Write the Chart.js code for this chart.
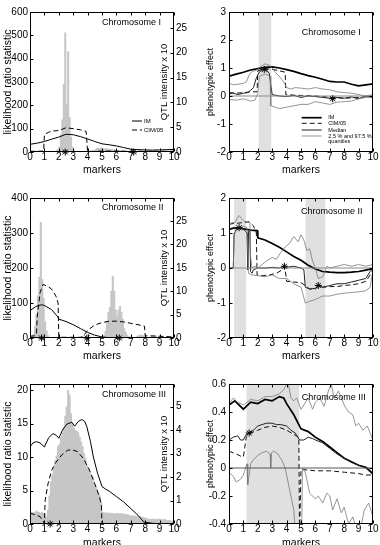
<!DOCTYPE html>
<html><head><meta charset="utf-8">
<script src="https://cdn.jsdelivr.net/npm/chart.js@4.4.1/dist/chart.umd.min.js"></script>
<style>
html,body{margin:0;padding:0;background:#fff;width:380px;height:545px;overflow:hidden;position:relative;}
canvas{position:absolute;}
</style></head><body>
<canvas id="p1" width="190" height="178" style="left:0px;top:0px"></canvas>
<canvas id="p2" width="190" height="178" style="left:190px;top:0px"></canvas>
<canvas id="p3" width="190" height="184" style="left:0px;top:180px"></canvas>
<canvas id="p4" width="190" height="184" style="left:190px;top:180px"></canvas>
<canvas id="p5" width="190" height="191" style="left:0px;top:360px"></canvas>
<canvas id="p6" width="190" height="191" style="left:190px;top:360px"></canvas>
<script>
// ---------- tick labels ----------
const markerTicks = [0,1,2,3,4,5,6,7,8,9,10];
const lrTicks1 = [0,100,200,300,400,500,600];
const qtlTicks1 = [0,5,10,15,20,25];
const effTicks1 = [-2,-1,0,1,2,3];
const lrTicks2 = [0,100,200,300,400];
const qtlTicks2 = [0,5,10,15,20,25];
const effTicks2 = [-2,-1,0,1,2];
const lrTicks3 = [0,5,10,15,20];
const qtlTicks3 = [0,1,2,3,4,5];
const effTicks3 = [-0.4,-0.2,0,0.2,0.4,0.6];

// ---------- Chromosome I ----------
const c1HistX = [1.85,1.95,2.05,2.15,2.25,2.35,2.45,2.55,2.65,2.75,2.85,2.95,3.05,4.55,4.65,4.75,4.85,4.95,5.05,5.15,5.25,5.35,5.45,5.55,5.65,5.75,5.85,5.95,6.05,6.15,6.25,6.35,6.45,7.05,7.55,8.05,8.55,9.05,9.55];
const c1HistY = [0.3,0.5,1.0,3.5,6.5,13.6,24.0,9.5,20.2,7.0,3.0,1.0,0.4,0.5,0.7,0.8,0.7,0.8,0.7,0.6,0.7,0.6,0.6,0.5,0.5,0.5,0.4,0.4,0.3,0.3,0.3,0.3,0.3,0.2,0.2,0.2,0.2,0.2,0.2];
const c1ImX = [0,0.5,1,1.5,2,2.5,3,3.5,4,4.5,5,5.5,6,6.5,7,7.5,8,8.5,9,9.5,10];
const c1ImY = [33,38,45,55,64,76,74,66,56,45,35,31,26,19,12,10,9,8,9,10,11];
const c1CimX = [0,0.5,0.95,1.0,1.3,1.6,2.0,2.5,3.0,3.5,3.9,4.0,4.5,5,6,7,8,9,10];
const c1CimY = [3,3,4,75,85,90,92,104,100,95,88,3,3,4,4,3,3,3,3];
const c1StarX = [2.45,7.2];
const c1StarY = [0,0];

const c1Band = [2.05,2.95];
const c1EffImX = [0,0.5,1,1.5,2,2.5,3,3.5,4,4.5,5,5.5,6,6.5,7,7.5,8,8.5,9,9.5,10];
const c1EffImY = [0.71,0.78,0.85,0.93,0.98,1.02,1.04,1.0,0.94,0.88,0.8,0.73,0.67,0.6,0.52,0.5,0.5,0.42,0.36,0.4,0.43];
const c1EffCimX = [0,0.5,1,1.5,1.95,2.0,2.5,3,3.5,3.9,3.95,4.5,5,6,7,8,9,10];
const c1EffCimY = [0.12,0.1,0.12,0.15,0.15,0.9,0.98,0.95,0.9,0.85,0.05,0.03,0.02,0.0,-0.05,-0.08,-0.05,0.0];
const c1MedX = [0,0.3,0.6,1,1.3,1.5,1.7,1.9,2.1,2.3,2.45,2.6,2.8,2.9,3.0,3.5,4,4.5,5,5.5,6,6.5,7,7.2,7.5,8,8.5,9,9.5,10];
const c1MedY = [0.08,0.1,0.05,0.1,0.12,0.2,0.3,0.65,0.85,0.92,0.95,0.93,0.8,0.4,0.05,0.0,-0.02,0.02,-0.05,0.0,-0.02,-0.05,-0.08,-0.1,-0.05,-0.08,-0.03,-0.1,0.0,-0.05];
const c1HiX = [0,0.3,0.6,1,1.2,1.4,1.6,1.8,2,2.2,2.5,2.8,3,3.2,3.5,3.8,4,4.3,4.6,5,5.5,6,6.5,7,7.5,8,8.5,9,9.5,10];
const c1HiY = [0.45,0.4,0.42,0.45,0.5,0.75,0.88,0.9,0.95,1.05,1.15,1.1,1.0,0.85,0.7,0.5,0.3,0.25,0.3,0.28,0.25,0.3,0.25,0.22,0.15,0.12,0.1,0.05,0.0,0.05];
const c1LoX = [0,0.5,1,1.5,1.8,2.0,2.1,2.3,2.5,2.7,2.85,2.9,3.2,3.5,4,4.5,5,5.5,6,6.5,7,7.5,8,8.5,9,9.5,10];
const c1LoY = [-0.12,-0.15,-0.1,-0.18,-0.15,0.1,0.7,0.75,0.78,0.75,0.7,-0.35,-0.4,-0.45,-0.4,-0.35,-0.3,-0.3,-0.2,-0.25,-0.3,-0.22,-0.2,-0.18,-0.1,-0.05,-0.05];
const c1EffStarX = [2.45,7.2];
const c1EffStarY = [0.95,-0.1];

// ---------- Chromosome II ----------
const c2HistX = [0.05,0.15,0.25,0.35,0.45,0.55,0.65,0.75,0.85,0.95,1.05,1.15,1.25,5.15,5.25,5.35,5.45,5.55,5.65,5.75,5.85,5.95,6.05,6.15,6.25,6.35,6.45,6.55,6.65,6.75,6.85,7.45,7.55,7.65,7.75,7.85,7.95,8.45,8.55,8.65,8.75,9.05,9.25];
const c2HistY = [0.5,0.5,0.8,2.5,5.0,9.0,13.0,24.7,12.5,8.5,3.5,1.5,0.5,0.6,1.5,3.5,5.5,6.5,10.0,13.2,10.0,6.0,4.5,6.0,6.8,5.5,4.0,2.0,1.2,0.6,0.3,0.4,0.5,0.6,0.6,0.5,0.4,0.4,0.5,0.5,0.4,0.3,0.2];
const c2ImX = [0,0.4,0.8,1.0,1.5,1.9,2.0,2.5,3,3.5,4,4.5,5,5.5,6,7,8,9,10];
const c2ImY = [78,90,95,93,81,62,54,47,38,27,16,8,3,1,0,0,0,0,0];
const c2CimX = [0,0.3,0.45,0.5,0.7,0.9,1.2,1.5,1.8,1.95,2.0,2.5,3,3.5,3.7,4.0,4.5,5,5.5,6,6.5,7,7.5,7.95,8.0,8.5,9,10];
const c2CimY = [5,6,10,60,130,153,148,140,120,100,2,2,2,2,5,22,37,44,48,48,46,42,38,34,6,6,5,3];
const c2StarX = [0.8,3.95,6.2];
const c2StarY = [0,0,0];

const c2BandA = [0.35,1.2];
const c2BandB = [5.3,6.7];
const c2EffImX = [0,0.3,0.7,1.0,1.5,1.95,2.0,2.5,3,3.5,4,4.5,5,5.5,6,6.5,7,7.5,8,8.5,9,9.5,10];
const c2EffImY = [1.1,1.14,1.15,1.12,1.08,1.07,0.86,0.8,0.7,0.59,0.46,0.33,0.22,0.08,-0.03,-0.1,-0.12,-0.13,-0.13,-0.12,-0.1,-0.06,-0.02];
const c2EffCimX = [0,0.3,0.6,1.0,1.4,1.7,1.9,1.95,2.3,2.8,3.3,3.7,3.85,3.95,4.0,4.5,5.0,5.3,5.6,6.0,6.2,6.5,7,7.5,8,8.5,9,9.5,9.8,10];
const c2EffCimY = [1.25,1.27,1.28,1.3,1.32,1.2,1.0,-0.2,-0.22,-0.2,-0.15,-0.05,0.05,-0.2,-0.38,-0.4,-0.42,-0.5,-0.6,-0.6,-0.52,-0.55,-0.53,-0.53,-0.5,-0.48,-0.45,-0.38,-0.2,-0.05];
const c2MedX = [0,0.3,0.35,0.5,0.75,1.0,1.15,1.25,1.3,1.35,1.45,1.5,1.6,1.7,2.0,2.5,3,3.5,3.85,4,4.5,5,5.2,5.3,5.6,6,6.2,6.5,7,7.5,8,8.5,9,9.5,9.8,10];
const c2MedY = [0.0,0.0,0.95,1.1,1.15,1.12,1.05,1.0,-0.05,1.05,1.05,-0.1,-0.15,-0.05,0.0,0.0,0.02,0.0,0.05,0.02,0.05,0.0,-0.05,-0.55,-0.6,-0.58,-0.5,-0.55,-0.5,-0.45,-0.45,-0.4,-0.35,-0.3,-0.1,0.0];
const c2HiX = [0,0.2,0.4,0.7,1.0,1.3,1.45,1.5,1.6,1.8,2.0,2.3,2.6,3.0,3.3,3.6,3.9,4.2,4.5,4.8,5.0,5.2,5.4,5.6,5.8,6.0,6.2,6.5,6.8,7.0,7.5,8,8.5,9,9.5,10];
const c2HiY = [1.25,1.3,1.3,1.5,1.35,1.3,1.3,0.3,0.0,0.05,0.0,0.1,0.2,0.3,0.25,0.45,0.6,0.7,0.9,0.75,0.95,0.8,0.5,0.55,0.2,0.0,-0.3,-0.25,0.05,0.0,0.05,0.1,0.05,0.1,0.05,0.1];
const c2LoX = [0,0.3,0.35,0.6,1.0,1.25,1.35,1.6,2.0,2.5,3,3.5,4,4.5,5.0,5.3,5.6,6,6.5,7,7.5,8,8.5,9,9.5,9.8,10];
const c2LoY = [0.0,0.0,1.0,1.1,1.2,1.15,-0.15,-0.2,-0.22,-0.25,-0.2,-0.3,-0.3,-0.45,-0.55,-1.0,-0.95,-0.9,-0.8,-0.8,-0.75,-0.72,-0.7,-0.68,-0.65,-0.55,-0.05];
const c2EffStarX = [0.7,3.85,6.2];
const c2EffStarY = [1.15,0.05,-0.5];

// ---------- Chromosome III ----------
const c3HistX = [0.05,0.15,0.25,0.35,0.45,0.55,0.65,0.75,0.85,0.95,1.05,1.15,1.25,1.35,1.45,1.55,1.65,1.75,1.85,1.95,2.05,2.15,2.25,2.35,2.45,2.55,2.65,2.75,2.85,2.95,3.05,3.15,3.25,3.35,3.45,3.55,3.65,3.75,3.85,3.95,4.05,4.15,4.25,4.35,4.45,4.55,4.65,4.75,4.85,4.95,5.05,5.15,5.25,5.35,5.45,5.55,5.65,5.75,5.85,5.95,6.05,6.15,6.25,6.35,6.45,6.55,6.65,6.75,6.85,6.95,7.05,7.15,7.25,7.35,7.45,7.55,7.65,7.75,7.85,7.95,8.05,8.15,8.25,8.35,8.45,8.55,8.65,8.75,8.85,8.95,9.05,9.15,9.25,9.35,9.45,9.55,9.65,9.75,9.85,9.95];
const c3HistY = [0.45,0.5,0.45,0.5,0.55,0.5,0.5,0.45,0.5,0.45,0.4,0.31,0.6,1.2,1.8,2.1,2.4,2.7,2.9,3.3,3.4,3.7,3.9,4.1,4.6,5.0,5.7,5.5,4.7,4.3,4.1,4.0,3.95,3.9,3.7,3.5,3.3,3.0,2.8,2.5,2.4,2.2,2.1,2.0,1.8,1.6,1.5,1.3,1.2,0.9,0.5,0.48,0.47,0.46,0.48,0.45,0.46,0.44,0.45,0.43,0.46,0.44,0.42,0.45,0.43,0.41,0.42,0.4,0.38,0.36,0.35,0.34,0.35,0.33,0.32,0.34,0.31,0.3,0.28,0.26,0.25,0.22,0.2,0.21,0.2,0.22,0.2,0.19,0.2,0.21,0.2,0.19,0.18,0.2,0.17,0.15,0.16,0.14,0.12,0.1];
const c3ImX = [0,0.2,0.45,0.7,1.0,1.3,1.6,1.85,2.0,2.25,2.55,2.9,3.1,3.35,3.6,3.8,3.95,4.2,4.4,4.7,5.0,5.25,5.5,6.0,6.5,7.0,7.5,7.9,8.5,9,10];
const c3ImY = [11.5,12.1,12.3,12.1,11.5,12.9,13.5,13.2,12.8,14.0,14.9,15.2,14.6,15.3,15.6,15.3,14.5,12.3,10.0,7.5,5.6,5.2,4.9,4.1,3.3,2.3,1.3,0.3,0.1,0.05,0];
const c3CimX = [0,0.35,0.7,0.95,1.0,1.05,1.25,1.5,1.8,2.2,2.6,2.9,3.3,3.7,4.1,4.5,4.8,4.95,5.0,6,7,8,9,10];
const c3CimY = [1.6,1.4,1.1,0.3,0.1,3.5,6.0,8.0,9.2,10.3,11.0,11.1,10.8,9.8,8.2,6.0,4.2,3.0,0.0,0,0,0,0,0];
const c3StarX = [1.4];
const c3StarY = [0];

const c3Band = [1.2,4.9];
const c3EffImX = [0,0.4,1.0,1.5,2.0,2.5,3.0,3.5,3.8,4.0,4.5,5.0,5.5,6.0,6.5,7.0,7.5,8.0,8.5,9.0,9.5,10];
const c3EffImY = [0.45,0.48,0.42,0.47,0.46,0.49,0.48,0.51,0.5,0.46,0.38,0.28,0.26,0.22,0.19,0.15,0.11,0.07,0.045,0.02,0.005,-0.04];
const c3EffCimX = [0,0.5,0.9,1.0,1.2,1.5,2.0,2.5,3.0,3.5,4.0,4.5,4.85,4.9,5.0,6,7,8,9,9.5,10];
const c3EffCimY = [0.12,0.1,0.08,0.08,0.22,0.25,0.27,0.29,0.3,0.29,0.27,0.24,0.22,-0.5,-0.01,-0.02,-0.02,-0.03,-0.04,-0.05,-0.05];
const c3MedX = [0,0.3,0.6,0.8,1.0,1.2,1.4,1.7,2.0,2.3,2.6,3.0,3.3,3.6,4.0,4.3,4.6,4.9,5.2,5.5,5.8,6.0,6.5,7.0,7.5,8.0,8.5,9.0,9.5,10];
const c3MedY = [0.2,0.22,0.23,0.2,0.2,0.24,0.25,0.27,0.3,0.31,0.32,0.32,0.31,0.31,0.3,0.27,0.25,0.2,0.2,0.22,0.21,0.2,0.18,0.14,0.1,0.07,0.04,0.02,0.0,-0.05];
const c3HiX = [0,0.3,0.6,1.0,1.5,2.0,2.5,3.0,3.5,3.8,4.0,4.05,4.1,4.2,4.3,4.5,4.7,5.0,5.2,5.5,5.8,6.0,6.3,6.6,6.9,7.1,7.3,7.6,8.0,8.3,8.6,8.8,9.0,9.3,9.6,9.8,10];
const c3HiY = [0.46,0.5,0.47,0.45,0.49,0.48,0.51,0.51,0.53,0.56,0.6,0.65,0.6,0.56,0.5,0.48,0.5,0.42,0.45,0.5,0.42,0.47,0.5,0.44,0.55,0.6,0.5,0.55,0.45,0.4,0.38,0.3,0.32,0.27,0.3,0.25,0.2];
const c3LoX = [0,0.3,0.5,0.8,1.0,1.15,1.25,1.3,1.4,1.5,1.7,2.0,2.3,2.6,2.85,2.9,2.95,3.1,3.4,3.7,3.9,4.1,4.3,4.5,4.6,5.05,5.1,5.3,5.6,6.0,6.2,6.5,6.8,7.0,7.2,7.5,7.8,8.0,8.3,8.6,8.9,9.2,9.4,9.7,10];
const c3LoY = [-0.03,-0.06,-0.1,-0.08,-0.05,0.0,0.03,-0.12,-0.05,0.03,0.06,0.09,0.11,0.12,0.1,0.0,0.11,0.12,0.1,0.05,0.0,-0.1,-0.2,-0.3,-0.45,-0.45,0.0,-0.03,-0.18,-0.22,-0.2,-0.25,-0.18,-0.2,-0.3,-0.22,-0.32,-0.28,-0.4,-0.35,-0.45,-0.4,-0.3,-0.25,-0.35];
const c3EffStarX = [1.4];
const c3EffStarY = [0.25];

// ---------- helpers ----------
const FONT = '"Liberation Sans", Arial, Helvetica, sans-serif';
Chart.defaults.font.family = FONT;
Chart.defaults.color = '#000';

const pts = (xs, ys) => xs.map((x, i) => ({x: x, y: ys[i]}));
function lineDs(xs, ys, st, axis) {
  return {type:'line', data: pts(xs, ys), yAxisID: axis || 'y', borderColor: st.color, borderWidth: st.width,
    borderDash: st.dash || [], pointRadius: 0, tension: 0, fill: false, order: 0};
}
function histDs(xs, ys) {
  return {type:'bar', data: pts(xs, ys), yAxisID:'y2', backgroundColor:'#c6c6c6', borderWidth:0,
    barPercentage:1, categoryPercentage:1, grouped:false, order:5};
}
function bandDs(b, top) {
  return {type:'line', data: pts(b, [top, top]), yAxisID:'y', fill:'start', backgroundColor:'#e0e0e0',
    borderWidth:0, borderColor:'rgba(0,0,0,0)', pointRadius:0, order:10};
}
function starDs(xs, ys, axis) {
  return {type:'line', data: pts(xs, ys), yAxisID: axis || 'y', showLine:false, pointStyle:'star',
    pointRadius:3.5, borderColor:'#000', backgroundColor:'#000', borderWidth:1, clip:false, order:-1};
}
const S = {
  imL: {color:'#000', width:1},
  cimL: {color:'#000', width:1, dash:[5,3]},
  imR: {color:'#000', width:1.7},
  cimR: {color:'#111', width:1, dash:[5,3]},
  med: {color:'#222', width:1},
  q: {color:'#7a7a7a', width:0.8},
  zero: {color:'#8a8a8a', width:1}
};

const decor = {
  id: 'decor',
  afterDatasetsDraw(chart, args, o) {
    const {ctx, chartArea: a, scales} = chart;
    const L = Math.round(a.left) + 0.5, R = Math.round(a.right) - 0.5;
    const T = Math.round(a.top) + 0.5, B = Math.round(a.bottom) - 0.5;
    ctx.save();
    ctx.setLineDash([]);
    ctx.strokeStyle = '#000'; ctx.lineWidth = 1;
    ctx.strokeRect(L, T, R - L, B - T);
    const tl = 3;
    ctx.beginPath();
    scales.x.ticks.forEach(t => {
      const p = Math.round(scales.x.getPixelForValue(t.value)) + 0.5;
      ctx.moveTo(p, B); ctx.lineTo(p, B - tl); ctx.moveTo(p, T); ctx.lineTo(p, T + tl);
    });
    scales.y.ticks.forEach(t => {
      const p = Math.round(scales.y.getPixelForValue(t.value)) + 0.5;
      ctx.moveTo(L, p); ctx.lineTo(L + tl, p);
      if (!scales.y2) { ctx.moveTo(R, p); ctx.lineTo(R - tl, p); }
    });
    if (scales.y2) scales.y2.ticks.forEach(t => {
      const p = Math.round(scales.y2.getPixelForValue(t.value)) + 0.5;
      ctx.moveTo(R, p); ctx.lineTo(R - tl, p);
    });
    ctx.stroke();
    ctx.fillStyle = '#000';
    if (o.label) {
      ctx.font = '9px ' + FONT; ctx.textAlign = 'left'; ctx.textBaseline = 'middle';
      ctx.fillText(o.label.text, scales.x.getPixelForValue(o.label.x), scales.y.getPixelForValue(o.label.y));
    }
    if (o.rightTitle) {
      ctx.save();
      ctx.translate(a.right - 10, (a.top + a.bottom) / 2);
      ctx.rotate(-Math.PI / 2);
      ctx.font = '9.5px ' + FONT; ctx.textAlign = 'center'; ctx.textBaseline = 'middle';
      ctx.fillText(o.rightTitle, 0, 0);
      ctx.restore();
    }
    if (o.legend) {
      const g = o.legend;
      ctx.font = g.size + 'px ' + FONT; ctx.textAlign = 'left'; ctx.textBaseline = 'middle';
      g.items.forEach(it => {
        const y = a.top + it.dy;
        if (it.st) {
          ctx.beginPath();
          ctx.strokeStyle = it.st.color; ctx.lineWidth = it.st.width; ctx.setLineDash(it.st.dash || []);
          ctx.moveTo(a.left + g.x0, y); ctx.lineTo(a.left + g.x1, y); ctx.stroke();
          ctx.setLineDash([]);
        }
        ctx.fillText(it.text, a.left + g.tx, y);
      });
    }
    ctx.restore();
  }
};

function fixedTicks(list) { return s => { s.ticks = list.map(v => ({value: v})); }; }

function xScale(h) {
  return {type:'linear', min:0, max:10, offset:false, position:'bottom',
    grid:{display:false, drawTicks:false, offset:false}, border:{display:false},
    afterBuildTicks: fixedTicks(markerTicks),
    ticks:{font:{size:10, lineHeight:1}, padding:0, maxRotation:0, autoSkip:false},
    title:{display:true, text:'markers', font:{size:10.5}, padding:{top:0, bottom:1.7}},
    afterFit: s => { s.height = h; }};
}

function leftPanel(id, c) {
  new Chart(document.getElementById(id), {
    type:'line',
    data:{datasets: c.datasets},
    options:{
      responsive:false, animation:false, devicePixelRatio:1,
      layout:{padding:{top:c.padTop, left:0, right:0, bottom:0}},
      plugins:{legend:{display:false}, tooltip:{enabled:false}, decor:c.decor},
      scales:{
        x: xScale(c.xh),
        y: {type:'linear', position:'left', min:0, max:c.yMax, afterBuildTicks: fixedTicks(c.yTicks),
          grid:{display:false, drawTicks:false}, border:{display:false},
          ticks:{font:{size:10}, padding:2},
          title:{display:true, text:'likelihood ratio statistic', font:{size:10.5}, padding:{top:1.7, bottom:0}},
          afterFit: s => { s.width = 30; }},
        y2: {type:'linear', position:'right', min:0, max:c.y2Max, afterBuildTicks: fixedTicks(c.y2Ticks),
          grid:{display:false, drawTicks:false}, border:{display:false},
          ticks:{font:{size:10}, padding:2},
          afterFit: s => { s.width = 16; }}
      }
    },
    plugins:[decor]
  });
}

function rightPanel(id, c) {
  new Chart(document.getElementById(id), {
    type:'line',
    data:{datasets: c.datasets},
    options:{
      responsive:false, animation:false, devicePixelRatio:1,
      layout:{padding:{top:c.padTop, left:0, right:7, bottom:0}},
      plugins:{legend:{display:false}, tooltip:{enabled:false}, decor:c.decor},
      scales:{
        x: xScale(c.xh),
        y: {type:'linear', position:'left', min:c.yMin, max:c.yMax, afterBuildTicks: fixedTicks(c.yTicks),
          grid:{display:false, drawTicks:false}, border:{display:false},
          ticks:{font:{size:10}, padding:3},
          title:{display:true, text:'phenotypic effect', font:{size:9}, padding:{top:15.3, bottom:0}},
          afterFit: s => { s.width = 39; }}
      }
    },
    plugins:[decor]
  });
}

// ---------- panels ----------
leftPanel('p1', {padTop:12, xh:26, yMax:600, yTicks:lrTicks1, y2Max:28.2, y2Ticks:qtlTicks1,
  datasets:[histDs(c1HistX, c1HistY), lineDs(c1ImX, c1ImY, S.imL), lineDs(c1CimX, c1CimY, S.cimL), starDs(c1StarX, c1StarY)],
  decor:{label:{text:'Chromosome I', x:5.0, y:557}, rightTitle:'QTL intensity x 10',
    legend:{size:6, x0:102, x1:112, tx:114, items:[{text:'IM', st:S.imL, dy:109}, {text:'CIM/05', st:S.cimL, dy:118}]}}});

rightPanel('p2', {padTop:12, xh:26, yMin:-2, yMax:3, yTicks:effTicks1,
  datasets:[bandDs(c1Band, 3), lineDs([0,10],[0,0], S.zero),
    lineDs(c1LoX, c1LoY, S.q), lineDs(c1HiX, c1HiY, S.q), lineDs(c1MedX, c1MedY, S.med),
    lineDs(c1EffCimX, c1EffCimY, S.cimR), lineDs(c1EffImX, c1EffImY, S.imR), starDs(c1EffStarX, c1EffStarY)],
  decor:{label:{text:'Chromosome I', x:5.05, y:2.25},
    legend:{size:5.5, x0:72.7, x1:92.7, tx:99.3, items:[
      {text:'IM', st:S.imR, dy:105.7}, {text:'CIM/05', st:S.cimR, dy:111.3}, {text:'Median', st:S.med, dy:118},
      {text:'2.5 % and 97.5 %', st:S.q, dy:124}, {text:'quantiles', dy:129.7}]}}});

leftPanel('p3', {padTop:18, xh:26, yMax:400, yTicks:lrTicks2, y2Max:29.9, y2Ticks:qtlTicks2,
  datasets:[histDs(c2HistX, c2HistY), lineDs(c2ImX, c2ImY, S.imL), lineDs(c2CimX, c2CimY, S.cimL), starDs(c2StarX, c2StarY)],
  decor:{label:{text:'Chromosome II', x:5.0, y:374}, rightTitle:'QTL intensity x 10'}});

rightPanel('p4', {padTop:18, xh:26, yMin:-2, yMax:2, yTicks:effTicks2,
  datasets:[bandDs(c2BandA, 2), bandDs(c2BandB, 2), lineDs([0,10],[0,0], S.zero),
    lineDs(c2LoX, c2LoY, S.q), lineDs(c2HiX, c2HiY, S.q), lineDs(c2MedX, c2MedY, S.med),
    lineDs(c2EffCimX, c2EffCimY, S.cimR), lineDs(c2EffImX, c2EffImY, S.imR), starDs(c2EffStarX, c2EffStarY)],
  decor:{label:{text:'Chromosome II', x:5.0, y:1.6}}});

leftPanel('p5', {padTop:24, xh:27, yMax:20.9, yTicks:lrTicks3, y2Max:5.97, y2Ticks:qtlTicks3,
  datasets:[histDs(c3HistX, c3HistY), lineDs(c3ImX, c3ImY, S.imL), lineDs(c3CimX, c3CimY, S.cimL), starDs(c3StarX, c3StarY)],
  decor:{label:{text:'Chromosome III', x:5.0, y:19.4}, rightTitle:'QTL intensity x 10'}});

rightPanel('p6', {padTop:24, xh:27, yMin:-0.4, yMax:0.6, yTicks:effTicks3,
  datasets:[bandDs(c3Band, 0.6), lineDs([0,10],[0,0], {color:'#555', width:1}),
    lineDs(c3LoX, c3LoY, S.q), lineDs(c3HiX, c3HiY, S.q), lineDs(c3MedX, c3MedY, S.med),
    lineDs(c3EffCimX, c3EffCimY, S.cimR), lineDs(c3EffImX, c3EffImY, S.imR), starDs(c3EffStarX, c3EffStarY)],
  decor:{label:{text:'Chromosome III', x:5.05, y:0.507}}});
</script>
</body></html>
